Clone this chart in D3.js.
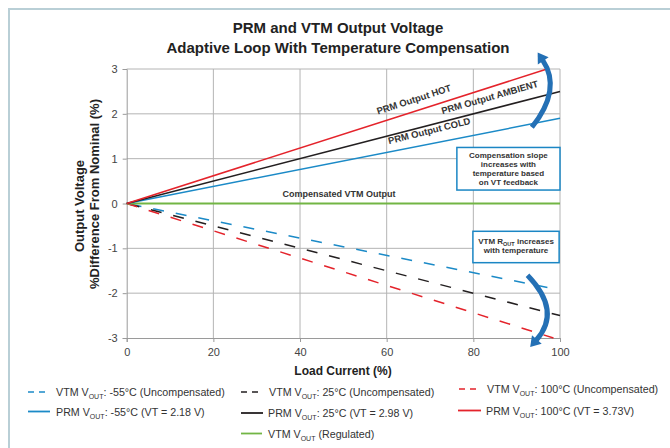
<!DOCTYPE html>
<html><head><meta charset="utf-8">
<script src="https://cdn.jsdelivr.net/npm/d3@7"></script>
<style>
html,body{margin:0;padding:0;background:#fff;}
svg{display:block;font-family:"Liberation Sans",Arial,sans-serif;}
</style></head>
<body>
<script>
// ---- data ----
const xTicks = [0, 20, 40, 60, 80, 100];
const yTicks = [-3, -2, -1, 0, 1, 2, 3];
const prmHotX = [0, 97],   prmHotY = [0, 3.0];
const prmAmbX = [0, 100],  prmAmbY = [0, 2.5];
const prmColdX = [0, 100], prmColdY = [0, 1.9];
const vtmRegX = [0, 100],  vtmRegY = [0, 0];
const vtmColdX = [0, 97.5], vtmColdY = [0, -1.88];
const vtmAmbX = [0, 100],  vtmAmbY = [0, -2.5];
const vtmHotX = [0, 98.5], vtmHotY = [0, -3.0];
const titleLines = ["PRM and VTM Output Voltage", "Adaptive Loop With Temperature Compensation"];
const xTitle = "Load Current (%)";
const yTitleLines = ["Output Voltage", "%Difference From Nominal (%)"];

const C = {red:"#e4232b", black:"#231f20", blue:"#1b8ac7", green:"#72b544", arrow:"#2470b5", text:"#333"};

const W = 670, H = 448;
const svg = d3.select("body").append("svg").attr("width", W).attr("height", H);

// frame
svg.append("path").attr("d", `M9,${H} L9,9 L${W},9`).attr("fill","none").attr("stroke","#b9cfd6").attr("stroke-width",2);

const x = d3.scaleLinear().domain([0,100]).range([126.7,560]);
const y = d3.scaleLinear().domain([-3,3]).range([338,69]);

// grid
const g = svg.append("g");
g.selectAll(".vg").data(xTicks.filter(d=>d>0)).join("line")
  .attr("x1",d=>x(d)).attr("x2",d=>x(d)).attr("y1",y(-3)).attr("y2",y(3))
  .attr("stroke","#b4b4b4").attr("stroke-width",1);
g.selectAll(".hg").data(yTicks.filter(d=>d>-3)).join("line")
  .attr("x1",x(0)).attr("x2",x(100)).attr("y1",d=>y(d)).attr("y2",d=>y(d))
  .attr("stroke","#b4b4b4").attr("stroke-width",1);

// axes
const fmt = d => String(d);
const xAxis = d3.axisBottom(x).tickValues(xTicks).tickFormat(fmt).tickSize(4).tickPadding(6);
const yAxis = d3.axisLeft(y).tickValues(yTicks).tickFormat(fmt).tickSize(4).tickPadding(5);
const gx = svg.append("g").attr("transform",`translate(0,${y(-3)})`).call(xAxis);
const gy = svg.append("g").attr("transform",`translate(${x(0)},0)`).call(yAxis);
[gx,gy].forEach(a=>{
  a.select(".domain").attr("stroke","#9a9a9a");
  a.selectAll(".tick line").attr("stroke","#9a9a9a");
  a.selectAll(".tick text").attr("fill","#444").style("font-size","11px").style("font-family","'Liberation Sans',Arial,sans-serif");
});

// series
const line = d3.line().x(d=>x(d[0])).y(d=>y(d[1]));
const zipXY = (xs, ys) => xs.map((v,i)=>[v, ys[i]]);
const series = [
  {xs:vtmColdX, ys:vtmColdY, color:C.blue, dash:"11,12", off:-4},
  {xs:vtmAmbX, ys:vtmAmbY, color:C.black, dash:"11,12", off:-2},
  {xs:vtmHotX, ys:vtmHotY, color:C.red, dash:"11,12", off:0},
  {xs:vtmRegX, ys:vtmRegY, color:C.green, w:2.2},
  {xs:prmColdX, ys:prmColdY, color:C.blue},
  {xs:prmAmbX, ys:prmAmbY, color:C.black},
  {xs:prmHotX, ys:prmHotY, color:C.red},
];
series.forEach(s=>{
  const p = svg.append("path").attr("d", line(zipXY(s.xs, s.ys)))
    .attr("fill","none").attr("stroke", s.color).attr("stroke-width", s.w || 1.5);
  if (s.dash) p.attr("stroke-dasharray", s.dash).attr("stroke-dashoffset", s.off);
});

// line labels
function rotLabel(txt, dx, dy, ang, size){
  svg.append("text").attr("transform",`translate(${x(dx)},${y(dy)}) rotate(${ang})`)
    .attr("text-anchor","middle").attr("fill",C.text)
    .style("font-size",size+"px").style("font-weight","bold").text(txt);
}
rotLabel("PRM Output HOT", 66.5, 2.25, -18, 9.5);
rotLabel("PRM Output AMBIENT", 84, 2.3, -16, 9.5);
rotLabel("PRM Output COLD", 70, 1.55, -14, 9.5);
rotLabel("Compensated VTM Output", 49, 0.14, 0, 9);

// annotation boxes
function box(x0,y0,x1,y1){
  const bx = x(x0), by = y(y0), bw = x(x1)-x(x0), bh = y(y1)-y(y0);
  svg.append("rect").attr("x",bx).attr("y",by).attr("width",bw).attr("height",bh)
    .attr("fill","#fff").attr("stroke","#1b86c4").attr("stroke-width",1.5);
  return {cx: bx+bw/2, by, bh};
}
const b1 = box(76.2, 1.25, 100, 0.3);
const t1 = ["Compensation slope","increases with","temperature based","on VT feedback"];
t1.forEach((t,i)=>{
  svg.append("text").attr("x",b1.cx).attr("y",b1.by+11+i*9).attr("text-anchor","middle")
    .attr("fill",C.text).style("font-size","8px").style("font-weight","bold").text(t);
});
const b2 = box(79.9, -0.62, 99.8, -1.32);
const bt = svg.append("text").attr("x",b2.cx).attr("y",b2.by+13).attr("text-anchor","middle")
  .attr("fill",C.text).style("font-size","8px").style("font-weight","bold");
bt.append("tspan").text("VTM R");
bt.append("tspan").attr("dy",2).style("font-size","5.5px").text("OUT");
bt.append("tspan").attr("dy",-2).text(" increases");
svg.append("text").attr("x",b2.cx).attr("y",b2.by+22).attr("text-anchor","middle")
  .attr("fill",C.text).style("font-size","8px").style("font-weight","bold").text("with temperature");

// curved arrows (positions in data units)
function arrow(t, c, e){
  const T=[x(t[0]),y(t[1])], Cc=[x(c[0]),y(c[1])], E=[x(e[0]),y(e[1])];
  const p = d3.path(); p.moveTo(T[0],T[1]); p.quadraticCurveTo(Cc[0],Cc[1],E[0],E[1]);
  svg.append("path").attr("d",p.toString()).attr("fill","none").attr("stroke",C.arrow).attr("stroke-width",5);
  let dx=E[0]-Cc[0], dy=E[1]-Cc[1]; const L=Math.hypot(dx,dy); dx/=L; dy/=L;
  const nx=-dy, ny=dx;
  const tip=[E[0]+dx*9, E[1]+dy*9];
  const b1=[E[0]-dx*1+nx*6.5, E[1]-dy*1+ny*6.5], b2=[E[0]-dx*1-nx*6.5, E[1]-dy*1-ny*6.5];
  svg.append("path").attr("d",`M${tip[0]},${tip[1]}L${b1[0]},${b1[1]}L${b2[0]},${b2[1]}Z`).attr("fill",C.arrow);
}
arrow([93.5,1.7],[100.5,2.55],[96,3.2]);
arrow([92.5,-1.6],[100.5,-2.4],[94.5,-3.05]);

// titles
titleLines.forEach((t,i)=>{
  svg.append("text").attr("x",338).attr("y",33+i*20).attr("text-anchor","middle")
    .attr("fill","#222").style("font-size","15px").style("font-weight","bold").text(t);
});
svg.append("text").attr("x",343).attr("y",375).attr("text-anchor","middle")
  .attr("fill","#222").style("font-size","12px").style("font-weight","bold").text(xTitle);
const yc = [206,194], yb = [84, 98.5];
yTitleLines.forEach((t,i)=>{
  svg.append("text").attr("transform",`translate(${yb[i]},${yc[i]}) rotate(-90)`).attr("text-anchor","middle")
    .attr("fill","#222").style("font-size","13px").style("font-weight","bold").text(t);
});

// legend
const legend = [
  {x0:28, x1:45, tx:56, y:392, color:C.blue, dash:true, a:"VTM V", sub:"OUT", b:": -55°C (Uncompensated)"},
  {x0:28, x1:50, tx:56, y:411.5, color:C.blue, a:"PRM V", sub:"OUT", b:": -55°C (VT = 2.18 V)"},
  {x0:241, x1:258, tx:269, y:392, color:C.black, dash:true, a:"VTM V", sub:"OUT", b:": 25°C (Uncompensated)"},
  {x0:241, x1:263, tx:268, y:413, color:C.black, a:"PRM V", sub:"OUT", b:": 25°C (VT = 2.98 V)"},
  {x0:241, x1:262, tx:268, y:433.5, color:C.green, a:"VTM V", sub:"OUT", b:" (Regulated)"},
  {x0:459, x1:476, tx:487, y:389, color:C.red, dash:true, a:"VTM V", sub:"OUT", b:": 100°C (Uncompensated)"},
  {x0:458, x1:481, tx:486, y:410.5, color:C.red, a:"PRM V", sub:"OUT", b:": 100°C (VT = 3.73V)"},
];
legend.forEach(l=>{
  const ln = svg.append("line").attr("x1",l.x0).attr("x2",l.x1).attr("y1",l.y).attr("y2",l.y)
    .attr("stroke",l.color).attr("stroke-width",l.dash?1.6:1.8);
  if (l.dash) ln.attr("stroke-dasharray","6,5");
  const t = svg.append("text").attr("x",l.tx).attr("y",l.y+4).attr("fill",C.text).style("font-size","10.7px");
  t.append("tspan").text(l.a);
  t.append("tspan").attr("dy",3).style("font-size","7px").text(l.sub);
  t.append("tspan").attr("dy",-3).text(l.b);
});
</script>
</body></html>
